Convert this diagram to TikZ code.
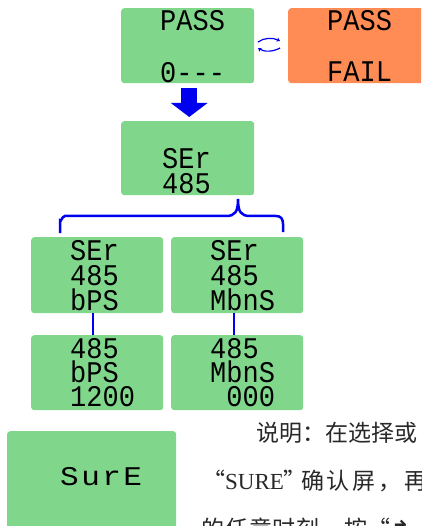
\documentclass[tikz,border=0pt]{standalone}
\usepackage{fontspec}
\newfontfamily\segfont[FakeStretch=0.9]{Liberation Mono}
\newfontfamily\segwide[FakeStretch=1.15]{Liberation Mono}
\newfontfamily\cjkfont{Noto Sans CJK SC}
\newfontfamily\latinserif{Liberation Serif}
\newfontfamily\symfont{DejaVu Sans}
\usetikzlibrary{arrows.meta,calc}
\definecolor{lcdgreen}{RGB}{128,215,139}
\definecolor{lcdorange}{RGB}{255,140,85}
\definecolor{linkblue}{RGB}{0,0,240}
\definecolor{bodytext}{RGB}{40,40,40}
\begin{document}
\begin{tikzpicture}[x=1pt,y=-1pt,
  lcd/.style={fill=lcdgreen, rounded corners=3pt, minimum height=75pt, inner sep=0pt, anchor=north west},
  seg/.style={inner sep=0pt, anchor=north west, align=left, text=black, font=\fontsize{30}{25}\selectfont\segfont},
  cjk/.style={inner sep=0pt, anchor=base west, text=bodytext, font=\fontsize{23}{23}\selectfont\cjkfont},
  link/.style={linkblue, line width=2.5pt},
  swap/.style={linkblue, line width=1.2pt, -{Stealth[length=3.5pt,width=4.5pt]}}]
\useasboundingbox (0,0) rectangle (421,526);
\clip (0,0) rectangle (421,526);
% boxes
\node[lcd, minimum width=133pt] (A) at (121,8) {};
\node[lcd, fill=lcdorange, minimum width=140pt] (B) at (288,8) {};
\node[lcd, minimum width=133pt, minimum height=74pt] (C) at (121,121) {};
\node[lcd, minimum width=132pt, minimum height=76pt] (D) at (31,237) {};
\node[lcd, minimum width=132pt, minimum height=76pt] (E) at (171,237) {};
\node[lcd, minimum width=132pt] (D2) at (31,335) {};
\node[lcd, minimum width=132pt] (E2) at (171,335) {};
\node[lcd, minimum width=169pt, minimum height=115pt] (F) at (7,431) {};
% LCD texts
\node[seg] (a1) at (160,10) {PASS};
\node[seg] (a2) at (160,62) {0---};
\node[seg] (b1) at (327,10) {PASS};
\node[seg] (b2) at (327,62) {FAIL};
\node[seg] (c1) at (162,148) {SEr\\485};
\node[seg] (d1) at (70,240) {SEr\\485\\bPS};
\node[seg] (e1) at (210,240) {SEr\\485\\MbnS};
\node[seg, font=\fontsize{30}{24}\selectfont\segfont] (f1) at (70,338) {485\\bPS\\1200};
\node[seg, font=\fontsize{30}{24}\selectfont\segfont] (g1) at (210,338) {485\\MbnS\\\phantom{0}000};
\node[seg, font=\fontsize{27}{27}\selectfont\segwide\addfontfeature{LetterSpace=9}] (h1) at (60,467) {SurE};
% swap arrows
\coordinate (s1) at (258,42);
\coordinate (s2) at (280,41);
\coordinate (s3) at (280,48);
\coordinate (s4) at (258,48);
\draw[swap] (s1) .. controls (264,37.5) and (273,37.5) .. (s2);
\draw[swap] (s3) .. controls (273,52) and (264,52) .. (s4);
% big arrow
\draw[linkblue, line width=16pt, -{Triangle[width=36pt,length=14pt]}, shorten <=5pt, shorten >=4pt] ($(A.south)+(1.5,0)$) -- ($(C.north)+(1.5,0)$);
% brace
\draw[link] (60,233) -- (60,221) to[out=-90,in=180] (65,216) -- (226,216) .. controls (235,216) and (238,212) .. (238,199) .. controls (238,212) and (241,216) .. (250,216) -- (276,216) .. controls (281,216) and (283,219) .. (283,224) -- (283,232);
% vertical links
\draw[link] ($(D.south)+(-4,0)$) -- ($(D2.north)+(-4,0)$);
\draw[link] ($(E.south)+(-3,0)$) -- ($(E2.north)+(-3,0)$);
% description text
\node[cjk] (t1) at (256,441) {说明：在选择或};
\node[cjk] (t2) at (202,489) {“{\latinserif SURE}”\hspace{-6pt}{\addfontfeature{LetterSpace=13}确认屏，再}};
\node[cjk] (t3) at (201,537) {{\addfontfeature{LetterSpace=4}的任意时刻，按}“{\symfont\bfseries ↱}};
\end{tikzpicture}
\end{document}
